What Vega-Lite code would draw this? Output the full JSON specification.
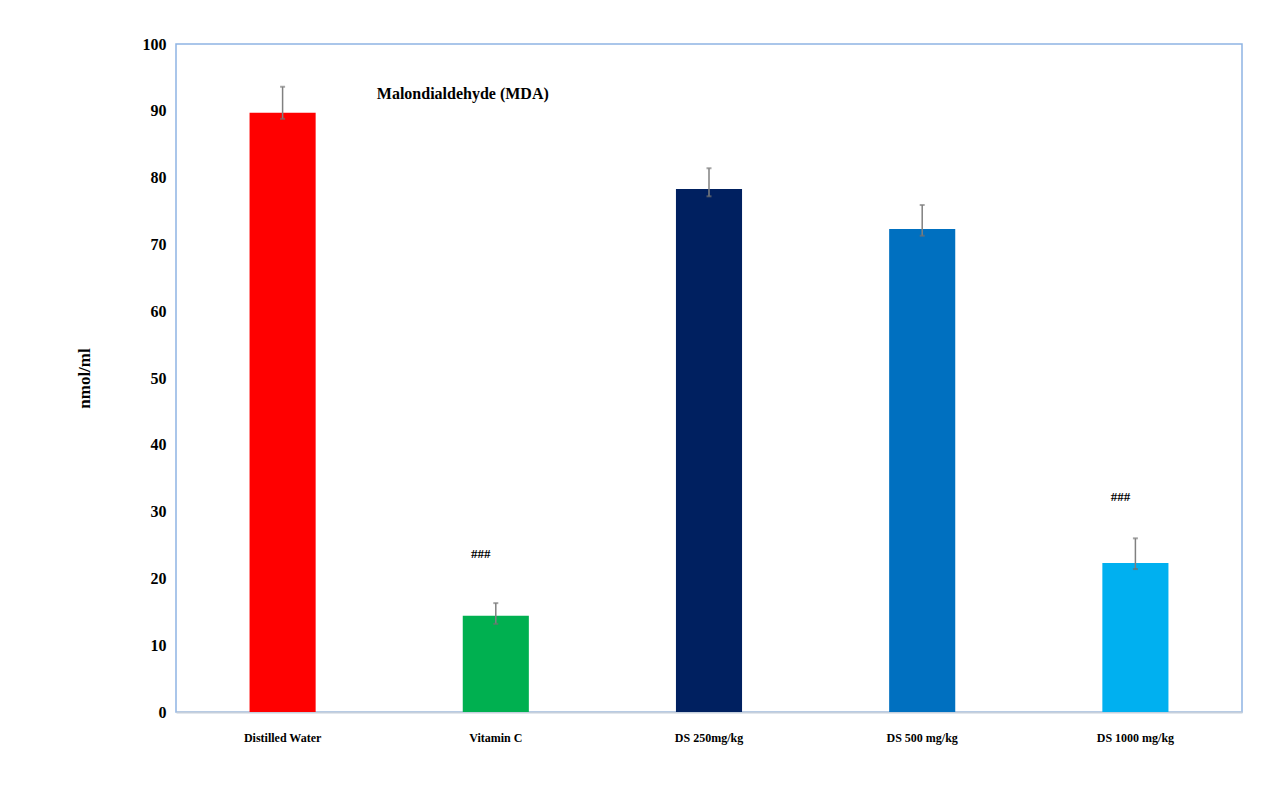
{
  "$schema": "https://vega.github.io/schema/vega-lite/v6.json",
  "width": 1066,
  "height": 668,
  "autosize": {"type": "none"},
  "padding": {"left": 176, "top": 44, "right": 24, "bottom": 98},
  "background": "white",
  "config": {
    "view": {"stroke": "#8fb4e3", "strokeWidth": 1.5},
    "font": "Liberation Serif"
  },
  "datasets": {
    "bars": [
      {"group": "Distilled Water", "value": 89.7, "lo": 88.8, "hi": 93.6, "sig": ""},
      {"group": "Vitamin C", "value": 14.4, "lo": 13.2, "hi": 16.3, "sig": "###"},
      {"group": "DS 250mg/kg", "value": 78.3, "lo": 77.2, "hi": 81.4, "sig": ""},
      {"group": "DS 500 mg/kg", "value": 72.3, "lo": 71.3, "hi": 75.9, "sig": ""},
      {"group": "DS 1000 mg/kg", "value": 22.3, "lo": 21.4, "hi": 26.0, "sig": "###"}
    ],
    "sigs": [
      {"group": "Vitamin C", "pos": 23.6, "sig": "###"},
      {"group": "DS 1000 mg/kg", "pos": 32.2, "sig": "###"}
    ],
    "titles": [
      {"group": "Vitamin C", "pos": 92.5, "label": "Malondialdehyde (MDA)"}
    ]
  },
  "encoding": {
    "x": {
      "field": "group",
      "type": "nominal",
      "sort": ["Distilled Water", "Vitamin C", "DS 250mg/kg", "DS 500 mg/kg", "DS 1000 mg/kg"],
      "scale": {"paddingInner": 0.69, "paddingOuter": 0.345},
      "axis": {
        "title": null,
        "labelAngle": 0,
        "ticks": false,
        "labelPadding": 20,
        "labelFont": "Liberation Serif",
        "labelFontWeight": "bold",
        "labelFontSize": 12,
        "labelColor": "#000000",
        "domainColor": "#c5cfdc",
        "domainWidth": 2
      }
    }
  },
  "layer": [
    {
      "data": {"name": "bars"},
      "mark": {"type": "bar"},
      "encoding": {
        "y": {
          "field": "value",
          "type": "quantitative",
          "scale": {"domain": [0, 100]},
          "axis": {
            "title": "nmol/ml",
            "titleFont": "Liberation Serif",
            "titleFontWeight": "bold",
            "titleFontSize": 17,
            "titleColor": "#000000",
            "titlePadding": 49,
            "values": [0, 10, 20, 30, 40, 50, 60, 70, 80, 90, 100],
            "grid": false,
            "ticks": false,
            "domain": false,
            "labelPadding": 10,
            "labelFont": "Liberation Serif",
            "labelFontWeight": "bold",
            "labelFontSize": 16,
            "labelColor": "#000000"
          }
        },
        "color": {
          "field": "group",
          "type": "nominal",
          "scale": {
            "domain": ["Distilled Water", "Vitamin C", "DS 250mg/kg", "DS 500 mg/kg", "DS 1000 mg/kg"],
            "range": ["#ff0000", "#00b050", "#002060", "#0070c0", "#00b0f0"]
          },
          "legend": null
        }
      }
    },
    {
      "data": {"name": "bars"},
      "mark": {"type": "rule", "color": "#808080", "strokeWidth": 1.5},
      "encoding": {
        "y": {"field": "lo", "type": "quantitative"},
        "y2": {"field": "hi"}
      }
    },
    {
      "data": {"name": "bars"},
      "mark": {"type": "tick", "color": "#808080", "size": 5, "thickness": 2},
      "encoding": {
        "y": {"field": "hi", "type": "quantitative"}
      }
    },
    {
      "data": {"name": "bars"},
      "mark": {"type": "tick", "color": "#707070", "size": 5, "thickness": 2},
      "encoding": {
        "y": {"field": "lo", "type": "quantitative"}
      }
    },
    {
      "data": {"name": "sigs"},
      "mark": {"type": "text", "dx": -15, "font": "Liberation Serif", "fontWeight": "bold", "fontSize": 13, "color": "#000000"},
      "encoding": {
        "y": {"field": "pos", "type": "quantitative"},
        "text": {"field": "sig"}
      }
    },
    {
      "data": {"name": "titles"},
      "mark": {"type": "text", "dx": -33, "font": "Liberation Serif", "fontWeight": "bold", "fontSize": 16, "color": "#000000"},
      "encoding": {
        "y": {"field": "pos", "type": "quantitative"},
        "text": {"field": "label"}
      }
    }
  ]
}
